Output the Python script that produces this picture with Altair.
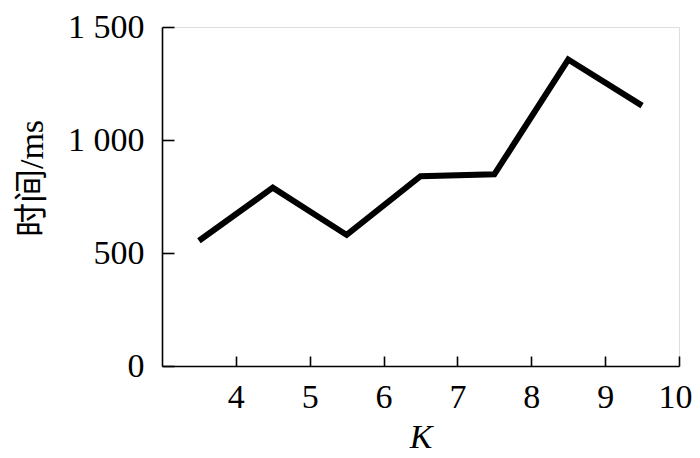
import altair as alt
import pandas as pd

k_values = [3.5, 4.5, 5.5, 6.5, 7.5, 8.5, 9.5]
time_ms = [554, 789, 580, 840, 848, 1356, 1152]
x_ticks = [4, 5, 6, 7, 8, 9, 10]
y_ticks = [0, 500, 1000, 1500]

df = pd.DataFrame({"K": k_values, "t": time_ms})
FONT = "Liberation Serif, 'Times New Roman', 'Noto Sans CJK SC'"

W, H = 517, 339
xs = alt.Scale(domain=[3, 10], nice=False, zero=False)
ys = alt.Scale(domain=[0, 1500], nice=False)

base = alt.Chart(df)

line = base.mark_line(color="black", strokeWidth=6, strokeJoin="miter", strokeCap="butt").encode(
    x=alt.X("K:Q", scale=xs, axis=alt.Axis(
        values=x_ticks, title="K", titleFontStyle="italic", titleFont=FONT, titleFontSize=34,
        titleFontWeight="normal", titleColor="black", titlePadding=6,
        tickSize=0, labelPadding=14, labelFont=FONT, labelFontSize=34, labelColor="black",
        labelFlush=True, labelFlushOffset=13, domainColor="black", domainWidth=1.6, grid=False)),
    y=alt.Y("t:Q", scale=ys, axis=alt.Axis(
        values=y_ticks, title="时间/ms", titleFont=FONT, titleFontSize=34,
        titleFontWeight="normal", titleColor="black", titlePadding=18, titleY=151,
        tickSize=0, labelPadding=18, labelFont=FONT, labelFontSize=34, labelColor="black",
        labelFlush=False, labelExpr="replace(format(datum.value, ','), ',', ' ')",
        domainColor="black", domainWidth=1.6, grid=False)),
)

ticks = base.mark_line(opacity=0).encode(
    x=alt.X("K:Q", scale=xs, axis=alt.Axis(
        orient="top", values=x_ticks, labels=False, domain=False, tickSize=10,
        tickColor="black", tickWidth=1.6, offset=-H, title=None, grid=False)),
    y=alt.Y("t:Q", scale=ys, axis=alt.Axis(
        orient="right", values=y_ticks, labels=False, domain=False, tickSize=12,
        tickColor="black", tickWidth=1.6, offset=-W, title=None, grid=False)),
)

chart = alt.layer(line, ticks).resolve_axis(x="independent", y="independent").properties(
    width=W, height=H,
    autosize=alt.AutoSizeParams(type="none"),
    padding={"left": 154, "top": 19, "right": 13, "bottom": 90},
).configure_view(stroke=None).configure(background="white")

chart.save("out.html", embed_options={"renderer": "svg", "actions": False})
